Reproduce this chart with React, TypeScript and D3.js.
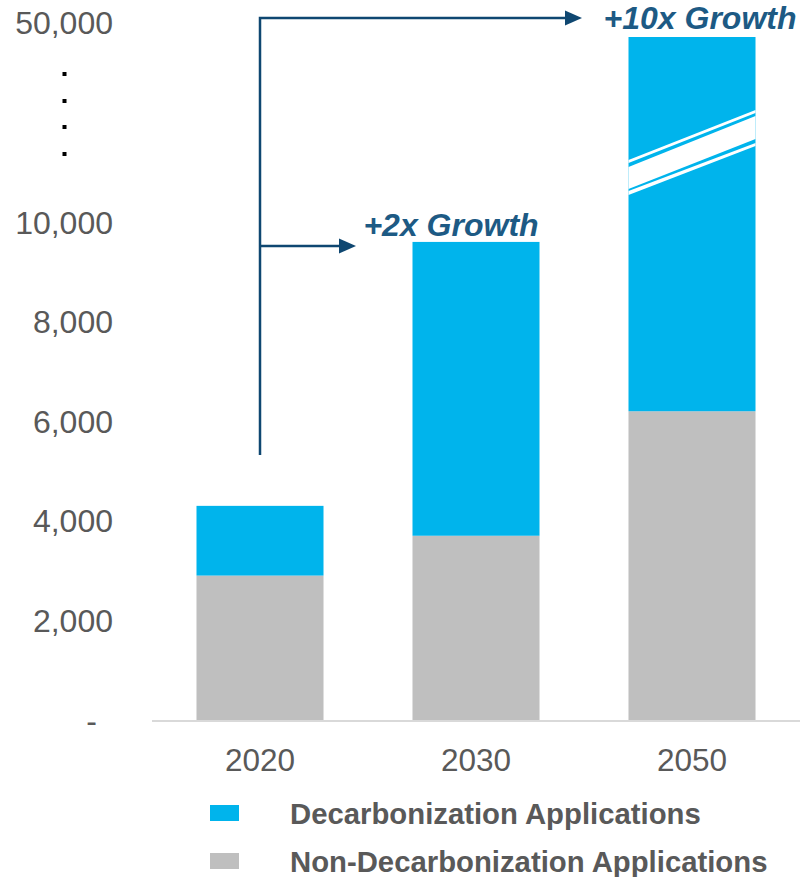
import * as d3 from "d3";
import React, { useEffect, useRef } from "react";

const years = ["2020", "2030", "2050"];
const nonDecarb = [2900, 3700, 6200];
const decarb = [1400, 5900, 40800];
const tickValues = [0, 2000, 4000, 6000, 8000, 10000, 50000];
const tickLabels = ["-", "2,000", "4,000", "6,000", "8,000", "10,000", "50,000"];
const seriesNames = ["Non-Decarbonization Applications", "Decarbonization Applications"];
const growthLabels = ["+2x Growth", "+10x Growth"];

const BLUE = "#00B4EC";
const GRAY = "#BFBFBF";
const TEXT = "#595959";
const NAVY = "#0F4771";
const NAVY_TEXT = "#1D5A84";

export default function App() {
  const svgRef = useRef<SVGSVGElement | null>(null);

  useEffect(() => {
    document.body.style.margin = "0";
    const width = 800;
    const height = 877;
    const svg = d3.select(svgRef.current);
    svg.selectAll("*").remove();
    svg.attr("width", width).attr("height", height);

    const font = "'Liberation Sans', Arial, sans-serif";

    const x = d3
      .scaleBand<string>()
      .domain(years)
      .range([152, 800])
      .paddingInner(0.412)
      .paddingOuter(0.206);

    // broken axis: linear up to 10,000 then compressed up to 50,000
    const y = d3.scaleLinear().domain([0, 10000, 50000]).range([720, 222, 22]);

    const rows = years.map((yr, i) => ({
      year: yr,
      non: nonDecarb[i],
      dec: decarb[i],
    }));
    const stack = d3.stack<any>().keys(["non", "dec"]);
    const series = stack(rows);
    const colors = [GRAY, BLUE];

    series.forEach((s, si) => {
      svg
        .append("g")
        .selectAll("rect")
        .data(s)
        .enter()
        .append("rect")
        .attr("x", (d: any) => x(d.data.year)!)
        .attr("width", x.bandwidth())
        .attr("y", (d) => y(d[1]))
        .attr("height", (d) => y(d[0]) - y(d[1]))
        .attr("fill", colors[si]);
    });

    // break marks on the 2050 bar
    const bx0 = x("2050")!;
    const bx1 = bx0 + x.bandwidth();
    const yb = y(10000);
    const band = (l0: number, l1: number, r0: number, r1: number) =>
      `M${bx0},${yb + l0} L${bx1},${yb + r0} L${bx1},${yb + r1} L${bx0},${yb + l1} Z`;
    const brk = svg.append("g").attr("fill", "#fff");
    brk.append("path").attr("d", band(-62, -59, -112, -109));
    brk.append("path").attr("d", band(-55, -33, -106, -83));
    brk.append("path").attr("d", band(-31, -27, -79, -76));

    // x axis line
    svg
      .append("line")
      .attr("x1", 152)
      .attr("x2", 800)
      .attr("y1", y(0) + 1)
      .attr("y2", y(0) + 1)
      .attr("stroke", "#D9D9D9")
      .attr("stroke-width", 2);

    // y tick labels
    svg
      .append("g")
      .selectAll("text")
      .data(tickValues)
      .enter()
      .append("text")
      .attr("x", (d) => (d === 0 ? 97 : 113))
      .attr("y", (d) => y(d))
      .attr("dy", "0.36em")
      .attr("text-anchor", "end")
      .attr("font-family", font)
      .attr("font-size", 32)
      .attr("fill", TEXT)
      .text((d, i) => tickLabels[i]);

    // dots for axis break
    const dotY = [74, 101, 127, 154];
    svg
      .append("g")
      .selectAll("rect")
      .data(dotY)
      .enter()
      .append("rect")
      .attr("x", 62.5)
      .attr("y", (d) => d - 2)
      .attr("width", 4)
      .attr("height", 4)
      .attr("fill", "#000");

    // x labels
    svg
      .append("g")
      .selectAll("text")
      .data(years)
      .enter()
      .append("text")
      .attr("x", (d) => x(d)! + x.bandwidth() / 2)
      .attr("y", 771)
      .attr("text-anchor", "middle")
      .attr("font-family", font)
      .attr("font-size", 31.5)
      .attr("fill", TEXT)
      .text((d) => d);

    // growth arrows
    const ax = x("2020")! + x.bandwidth() / 2;
    const topY = 18;
    const midY = y(nonDecarb[1] + decarb[1]) + 4;
    const arr = svg.append("g").attr("stroke", NAVY).attr("stroke-width", 2.5).attr("fill", "none");
    arr.append("path").attr("d", `M${ax},455 L${ax},${topY} L566,${topY}`);
    arr.append("path").attr("d", `M${ax},${midY} L341,${midY}`);
    const head = (tip: number, yy: number) =>
      `M${tip},${yy} L${tip - 17},${yy - 7.5} L${tip - 17},${yy + 7.5} Z`;
    svg.append("path").attr("d", head(582, topY)).attr("fill", NAVY);
    svg.append("path").attr("d", head(356, midY)).attr("fill", NAVY);

    // growth labels
    const gl = svg
      .append("g")
      .attr("font-family", font)
      .attr("font-size", 32)
      .attr("font-weight", "bold")
      .attr("font-style", "italic")
      .attr("fill", NAVY_TEXT)
      .attr("text-anchor", "middle");
    gl.append("text").attr("x", 451).attr("y", 236).text(growthLabels[0]);
    gl.append("text").attr("x", 700).attr("y", 29).text(growthLabels[1]);

    // legend
    const legend = [
      { name: seriesNames[1], color: BLUE, y: 813 },
      { name: seriesNames[0], color: GRAY, y: 861 },
    ];
    const lg = svg.append("g");
    legend.forEach((l) => {
      lg.append("rect")
        .attr("x", 210)
        .attr("y", l.y - 8)
        .attr("width", 29)
        .attr("height", 16)
        .attr("fill", l.color);
      lg.append("text")
        .attr("x", 290)
        .attr("y", l.y)
        .attr("dy", "0.36em")
        .attr("font-family", font)
        .attr("font-size", 29.3)
        .attr("font-weight", "bold")
        .attr("fill", TEXT)
        .text(l.name);
    });
  }, []);

  return <svg ref={svgRef} style={{ display: "block" }} />;
}
